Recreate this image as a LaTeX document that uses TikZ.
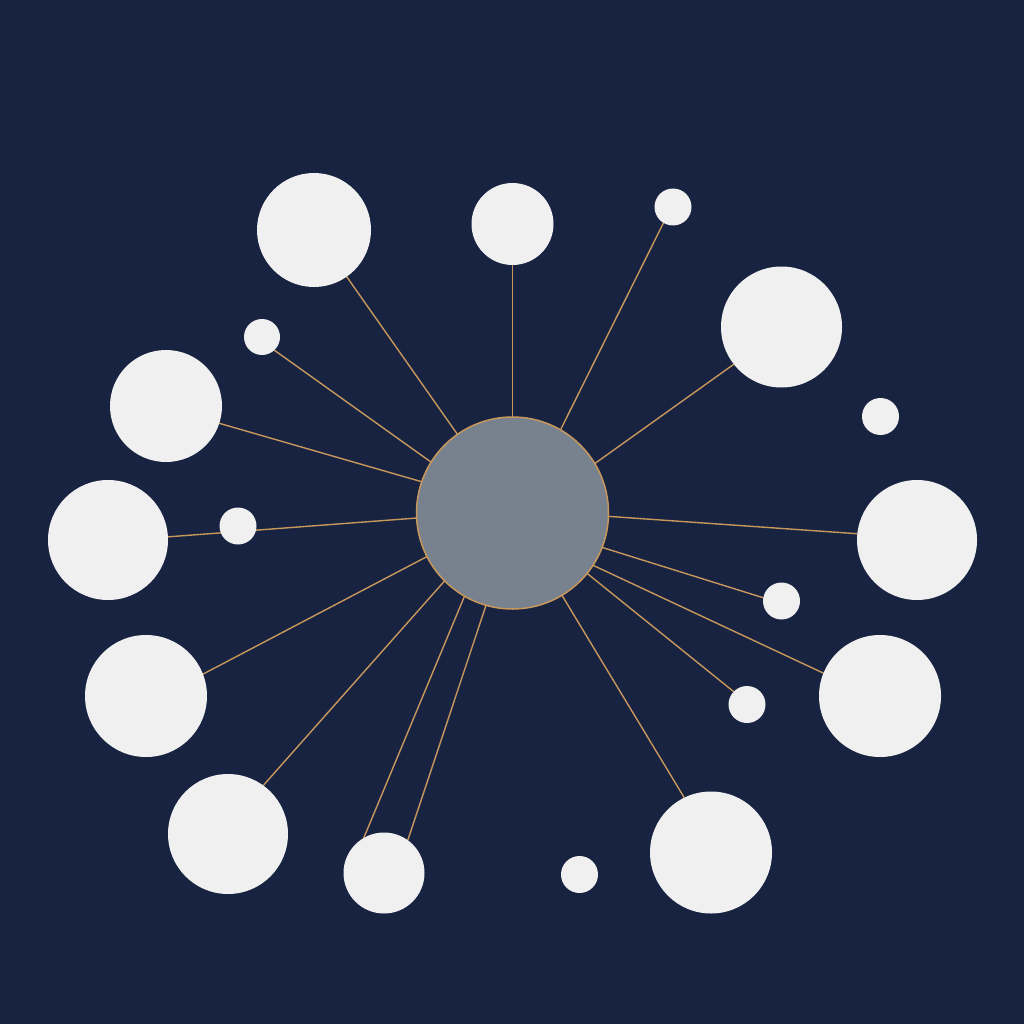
\documentclass[tikz,border=0pt]{standalone}
\definecolor{navy}{HTML}{172341}
\definecolor{dot}{HTML}{F0F0F0}
\definecolor{hubgray}{HTML}{77828E}
\definecolor{tan}{HTML}{C8975C}
\pgfdeclarelayer{bglayer}
\pgfdeclarelayer{edges}
\pgfsetlayers{bglayer,edges,main}
\tikzset{
  dotnode/.style={circle, fill=dot, draw=none, inner sep=0pt, outer sep=0pt, minimum size=#1},
  hubnode/.style={circle, fill=hubgray, draw=tan, line width=1.5pt, inner sep=0pt, outer sep=0pt, minimum size=192pt},
  link/.style={draw=tan, line width=1.4pt}
}
\begin{document}
\begin{tikzpicture}[x=1pt,y=-1pt]
\begin{pgfonlayer}{bglayer}
\fill[navy] (0,0) rectangle (1024,1024);
\end{pgfonlayer}
\useasboundingbox (0,0) rectangle (1024,1024);
\node[hubnode] (hub) at (512.5,513) {};
\node[dotnode=114pt] (c1) at (314,230) {};
\node[dotnode=82pt] (c2) at (512.5,224) {};
\node[dotnode=37pt] (c3) at (673,207) {};
\node[dotnode=121pt] (c4) at (781.5,327) {};
\node[dotnode=36pt] (c5) at (262,337) {};
\node[dotnode=112pt] (c6) at (166,406) {};
\node[dotnode=37pt] (c7) at (880.5,416.5) {};
\node[dotnode=120pt] (c8) at (108,540) {};
\node[dotnode=37pt] (c9) at (238,526) {};
\node[dotnode=120pt] (c10) at (917,540) {};
\node[dotnode=37pt] (c11) at (781.5,601) {};
\node[dotnode=122pt] (c12) at (146,696) {};
\node[dotnode=122pt] (c13) at (880,696) {};
\node[dotnode=37pt] (c14) at (747,704.5) {};
\node[dotnode=120pt] (c15) at (228,834) {};
\node[dotnode=81pt] (c16) at (384,873) {};
\node[dotnode=37pt] (c17) at (579.5,874.5) {};
\node[dotnode=122pt] (c18) at (711,852.5) {};
\begin{pgfonlayer}{edges}
\draw[link] (hub.125.5) -- (c1.-55.5);
\draw[link] (hub.90) -- (c2.270);
\draw[link] (hub.60.3) -- (c3.239.5);
\draw[link] (hub.31.6) -- (c4.218.1);
\draw[link] (hub.148.7) -- (c5.-47);
\draw[link] (hub.161.9) -- (c6.-18.8);
\draw[link] (hub.183) -- (c8.3.8);
\draw[link] (hub.-2.4) -- (c10.174.3);
\draw[link] (hub.-21) -- (c11.170.8);
\draw[link] (hub.207.3) -- (c12.21.1);
\draw[link] (hub.-33) -- (c13.158.9);
\draw[link] (hub.-39.7) -- (c14.136);
\draw[link] (hub.225.4) -- (c15.54.8);
\draw[link] (hub.240) -- (c16.120.3);
\draw[link] (hub.254.7) -- (c16.54.5);
\draw[link] (hub.-59.6) -- (c18.116.8);
\end{pgfonlayer}
\end{tikzpicture}
\end{document}
